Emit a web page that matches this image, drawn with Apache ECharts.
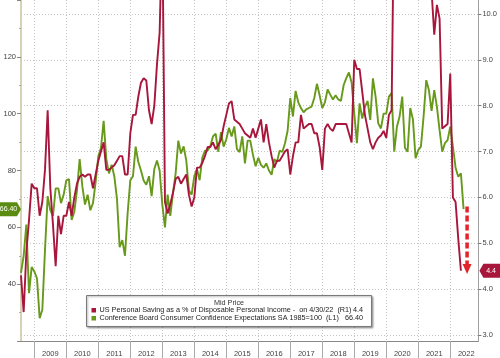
<!DOCTYPE html>
<html><head><meta charset="utf-8">
<script src="https://cdn.jsdelivr.net/npm/echarts@6/dist/echarts.min.js"></script>
<style>html,body{margin:0;padding:0;background:#fff}#c{width:500px;height:358px}</style>
</head><body><div id="c"></div>
<script>
// ---- DATA (monthly, end-of-month observations, first = July 2008) ----
const START_YEAR = 2008, START_MONTH = 7;

// US Personal Saving as a % of Disposable Personal Income (R1)
const saving2008 = [4.3, 3.5, 4.8, 5.5, 6.3, 6.2];
const saving2009 = [6.2, 5.6, 5.9, 6.6, 7.9, 6.2, 5.4, 4.5, 5.6, 5.2, 5.6, 5.6];
const saving2010 = [5.9, 5.6, 6.0, 6.3, 6.45, 6.5, 6.45, 6.5, 6.5, 6.2, 6.5, 6.8];
const saving2011 = [7.0, 7.2, 6.6, 6.6, 6.65, 6.7, 6.8, 6.9, 6.9, 6.5, 6.5, 7.4];
const saving2012 = [7.8, 7.8, 8.2, 8.5, 8.6, 8.55, 7.9, 7.6, 8.0, 8.9, 9.6, 12.0];
const saving2013 = [5.9, 5.65, 5.85, 6.1, 6.4, 6.45, 6.3, 6.4, 6.5, 6.05, 5.8, 6.0];
const saving2014 = [6.65, 6.65, 6.75, 6.9, 7.1, 7.1, 7.2, 7.05, 7.15, 7.25, 7.55, 7.8];
const saving2015 = [8.05, 8.1, 7.7, 7.65, 7.6, 7.5, 7.4, 7.35, 7.3, 7.5, 7.3, 7.5];
const saving2016 = [7.7, 7.2, 7.6, 7.2, 6.9, 6.65, 6.8, 6.8, 6.9, 7.0, 7.05, 6.5];
const saving2017 = [6.9, 7.2, 7.2, 7.8, 7.5, 7.55, 7.6, 7.6, 7.4, 7.4, 7.1, 6.6];
const saving2018 = [7.5, 7.6, 7.5, 7.45, 7.6, 7.6, 7.6, 7.6, 7.6, 7.4, 7.2, 9.0];
const saving2019 = [8.8, 8.8, 8.3, 7.8, 7.5, 7.2, 7.05, 7.2, 7.3, 7.35, 7.45, 7.3];
const saving2020 = [7.8, 7.9, 12.8, 33.8, 24.9, 19.2, 18.3, 14.8, 14.4, 13.5, 13.0, 13.4];
const saving2021 = [19.9, 13.6, 26.6, 12.7, 10.5, 9.55, 10.2, 9.9, 7.5, 7.55, 7.6, 8.7];
const saving2022 = [6.0, 5.9, 5.1, 4.4];

// Conference Board Consumer Confidence Expectations SA 1985=100 (L1)
const expect2008 = [44, 50, 61, 36.8, 46, 44.5];
const expect2009 = [42, 28, 31, 52, 71, 66, 64, 73.7, 73.7, 68.5, 71.5, 76.5];
const expect2010 = [77, 62.6, 65.5, 73, 84, 74.5, 68, 71.5, 66, 68.5, 76, 85];
const expect2011 = [88, 97.5, 84, 79, 82, 78, 70, 53, 55.5, 50, 65, 76.6];
const expect2012 = [78, 88.4, 83, 80, 76.5, 75, 78, 71, 80.5, 83.5, 80, 68];
const expect2013 = [60, 71.5, 64, 72, 79, 90.5, 86, 88.5, 83.5, 73, 71.5, 78];
const expect2014 = [80.5, 76.6, 84.5, 87, 87, 88.5, 92, 93, 86.6, 93.5, 88.4, 91];
const expect2015 = [95, 92, 95.5, 87.5, 86.5, 92, 82.5, 90.5, 90.5, 85.5, 81.5, 84.5];
const expect2016 = [82, 81, 82.5, 80, 78.5, 84, 83, 87, 86.5, 89.5, 94, 105.5];
const expect2017 = [99, 108, 104, 102, 100.5, 101.5, 102, 102.5, 105.5, 110.5, 106.5, 102];
const expect2018 = [104, 108.5, 106.7, 105, 106.5, 105, 104.5, 110, 112.5, 114.5, 111, 100];
const expect2019 = [89.6, 103.6, 98.3, 102.4, 104.5, 97.8, 112.4, 106, 96.6, 94.8, 100, 100];
const expect2020 = [106, 107.2, 86.6, 95.4, 99, 106, 88, 86.6, 102, 98, 84.3, 87.2];
const expect2021 = [88.4, 99, 111.8, 108.3, 101, 108.3, 102.4, 94.2, 86.6, 89.6, 90.7, 95.4];
const expect2022 = [88.4, 81, 77.8, 79, 66.4];

const yearTicks = [2009, 2010, 2011, 2012, 2013, 2014, 2015, 2016, 2017, 2018, 2019, 2020, 2021, 2022];
const rightTicks = [3, 4, 5, 6, 7, 8, 9, 10];
const legendTitle = 'Mid Price';
const legendRed = 'US Personal Saving as a % of Disposable Personal Income -  on 4/30/22  (R1)';
const legendGreen = 'Conference Board Consumer Confidence Expectations SA 1985=100  (L1)';
const lastRedText = '4.4';
const lastGreenText = '66.40';

// ---- BUILD ----
const savingRate = [].concat(saving2008, saving2009, saving2010, saving2011, saving2012, saving2013,
  saving2014, saving2015, saving2016, saving2017, saving2018, saving2019, saving2020, saving2021, saving2022);
const expectations = [].concat(expect2008, expect2009, expect2010, expect2011, expect2012, expect2013,
  expect2014, expect2015, expect2016, expect2017, expect2018, expect2019, expect2020, expect2021, expect2022);
const toX = i => START_YEAR + (START_MONTH + i) / 12;

const RED = '#a8163b', GREEN = '#67991a';
const FONT = "'Liberation Sans Narrow','Liberation Sans',Arial,sans-serif";

const chart = echarts.init(document.getElementById('c'), null, {renderer: 'canvas'});
chart.setOption({
  animation: false,
  backgroundColor: '#fff',
  grid: {left: 21, right: 20, top: 0, bottom: 17, containLabel: false},
  xAxis: {
    type: 'value', min: toX(0), max: 2022.88,
    axisLine: {show: true, onZero: false, lineStyle: {color: '#888', width: 1}},
    axisTick: {show: true, customValues: yearTicks, length: 17, lineStyle: {color: '#aaa'}},
    axisLabel: {customValues: yearTicks.map(y => y + 0.5), formatter: v => String(Math.floor(v)),
      margin: 9, fontSize: 7.5, color: '#444', fontFamily: FONT},
    splitLine: {show: true, lineStyle: {color: '#c4c4c4', type: [1, 2]}}
  },
  yAxis: [{
    type: 'value', position: 'left', min: 20, max: 140, interval: 20,
    axisLine: {show: true, lineStyle: {color: '#c9c59c', width: 1.5}},
    axisTick: {show: true, length: 4, lineStyle: {color: '#888'}},
    minorTick: {show: true, splitNumber: 2, length: 2, lineStyle: {color: '#aaa'}},
    axisLabel: {showMinLabel: false, showMaxLabel: false, margin: 5, fontSize: 7.5, color: '#444', fontFamily: FONT},
    splitLine: {show: false}
  }, {
    type: 'value', position: 'right', min: 2.869, max: 10.305,
    axisLine: {show: true, lineStyle: {color: '#a0a0a0', width: 1}},
    axisTick: {show: true, customValues: rightTicks, length: 3, lineStyle: {color: '#777'}},
    axisLabel: {customValues: rightTicks, formatter: v => v.toFixed(1), margin: 4, fontSize: 7.5, color: '#444', fontFamily: FONT},
    splitLine: {show: true, lineStyle: {color: '#c4c4c4', type: [1, 2]}}
  }],
  series: [{
    name: 'Expectations', type: 'line', yAxisIndex: 0, showSymbol: false, clip: true,
    data: expectations.map((v, i) => [toX(i), v]),
    lineStyle: {color: GREEN, width: 1.9}, itemStyle: {color: GREEN}, z: 3
  }, {
    name: 'Saving', type: 'line', yAxisIndex: 1, showSymbol: false, clip: true,
    data: savingRate.map((v, i) => [toX(i), v]),
    lineStyle: {color: RED, width: 1.9}, itemStyle: {color: RED}, z: 4
  }]
});

// ---- annotations placed from data ----
const lastRed = savingRate[savingRate.length - 1];
const lastGreen = expectations[expectations.length - 1];
const yRed = chart.convertToPixel({yAxisIndex: 1}, lastRed);
const yGreen = chart.convertToPixel({yAxisIndex: 0}, lastGreen);
const xLeft = chart.convertToPixel({xAxisIndex: 0}, toX(0));
const xRight = chart.convertToPixel({xAxisIndex: 0}, 2022.88);
const arrowX = chart.convertToPixel({xAxisIndex: 0}, toX(expectations.length - 1)) + 3.5;
const arrowTop = chart.convertToPixel({yAxisIndex: 1}, 5.8);
const arrowBot = chart.convertToPixel({yAxisIndex: 1}, 4.55);

const LF = "'Liberation Sans',Arial,sans-serif";
const LFONT = '7px ' + LF;
// horizontal stretch so the legend row spans like the original
const mctx = document.createElement('canvas').getContext('2d');
mctx.font = LFONT;
const rowW = mctx.measureText(legendRed).width || 240;
const sx = Math.min(1.12, Math.max(0.9, 252 / rowW));

chart.setOption({
  graphic: [
    // legend box
    {type: 'rect', shape: {x: 86.5, y: 295.5, width: 285, height: 31},
      style: {fill: '#fff', stroke: '#7a7a7a', lineWidth: 1, shadowBlur: 2, shadowOffsetX: 1, shadowOffsetY: 1, shadowColor: 'rgba(0,0,0,0.35)'}, z: 100},
    {type: 'text', x: 229, y: 303, scaleX: sx, style: {text: legendTitle, font: LFONT, fill: '#333', align: 'center', verticalAlign: 'middle'}, z: 101},
    {type: 'rect', shape: {x: 91.5, y: 308, width: 4.5, height: 4.5}, style: {fill: RED}, z: 101},
    {type: 'text', x: 99.5, y: 310.5, scaleX: sx, style: {text: legendRed, font: LFONT, fill: '#222', verticalAlign: 'middle'}, z: 101},
    {type: 'text', x: 363, y: 310.5, scaleX: sx, style: {text: lastRedText, font: LFONT, fill: '#222', align: 'right', verticalAlign: 'middle'}, z: 101},
    {type: 'rect', shape: {x: 91.5, y: 316, width: 4.5, height: 4.5}, style: {fill: GREEN}, z: 101},
    {type: 'text', x: 99.5, y: 318.5, scaleX: sx, style: {text: legendGreen, font: LFONT, fill: '#222', verticalAlign: 'middle'}, z: 101},
    {type: 'text', x: 363, y: 318.5, scaleX: sx, style: {text: lastGreenText, font: LFONT, fill: '#222', align: 'right', verticalAlign: 'middle'}, z: 101},
    // last value tag on the left axis (green)
    {type: 'polygon', shape: {points: [[0, yGreen - 7], [xLeft - 4, yGreen - 7], [xLeft, yGreen], [xLeft - 4, yGreen + 7], [0, yGreen + 7]]},
      style: {fill: '#5b8c12'}, z: 100},
    {type: 'text', x: 8.5, y: yGreen, style: {text: lastGreenText, font: '7px ' + LF, fill: '#fff', align: 'center', verticalAlign: 'middle'}, z: 101},
    // last value tag on the right axis (red)
    {type: 'polygon', shape: {points: [[500, yRed - 7], [xRight + 5, yRed - 7], [xRight + 1, yRed], [xRight + 5, yRed + 7], [500, yRed + 7]]},
      style: {fill: '#a8173b'}, z: 100},
    {type: 'text', x: 491, y: yRed, style: {text: lastRedText, font: '7px ' + LF, fill: '#fff', align: 'center', verticalAlign: 'middle'}, z: 101},
    // dashed red arrow
    {type: 'line', shape: {x1: arrowX, y1: arrowTop, x2: arrowX, y2: arrowBot},
      style: {stroke: '#e3242b', lineWidth: 3.5, lineDash: [6, 3]}, z: 100},
    {type: 'polygon', shape: {points: [[arrowX - 4.5, arrowBot], [arrowX + 4.5, arrowBot], [arrowX, arrowBot + 10]]},
      style: {fill: '#e3242b'}, z: 100}
  ]
});
</script></body></html>
